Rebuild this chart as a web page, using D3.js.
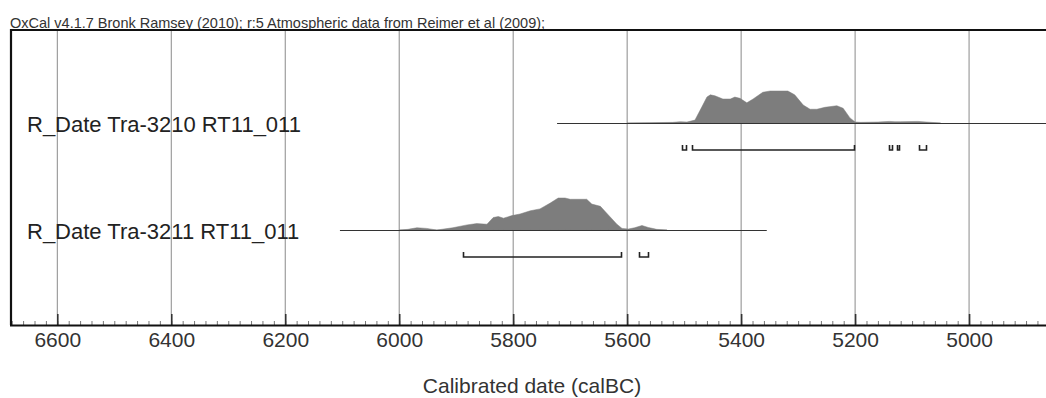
<!DOCTYPE html>
<html>
<head>
<meta charset="utf-8">
<script src="https://cdn.jsdelivr.net/npm/d3@7/dist/d3.min.js"></script>
<style>
  html, body { margin: 0; padding: 0; background: #fff; }
  svg { display: block; font-family: "Liberation Sans", Arial, sans-serif; }
</style>
</head>
<body>
<svg id="chart" width="1046" height="398"></svg>
<script>
// Calibrated radiocarbon dates (calBC), OxCal-style multiplot
const headerText = "OxCal v4.1.7 Bronk Ramsey (2010); r:5 Atmospheric data from Reimer et al (2009);";
const sampleNames = ["R_Date Tra-3210 RT11_011", "R_Date Tra-3211 RT11_011"];
const axisTitle = "Calibrated date (calBC)";
const majorTicks = [6600, 6400, 6200, 6000, 5800, 5600, 5400, 5200, 5000];

// Calibrated probability (relative, peak = 1) against calendar year BC
const tra3210Years = [5600, 5560, 5520, 5507, 5495, 5481, 5469, 5460, 5454, 5446, 5432, 5419, 5411, 5402, 5390, 5379, 5362, 5349, 5318, 5306, 5291, 5279, 5267, 5253, 5232, 5221, 5209, 5200, 5190, 5160, 5140, 5130, 5120, 5090, 5075, 5050];
const tra3210Prob  = [0, 0.01, 0.02, 0.04, 0.03, 0.09, 0.5, 0.81, 0.88, 0.85, 0.75, 0.75, 0.81, 0.77, 0.63, 0.75, 0.96, 1.0, 1.0, 0.88, 0.56, 0.43, 0.43, 0.49, 0.54, 0.46, 0.16, 0.03, 0.02, 0.03, 0.05, 0.04, 0.04, 0.05, 0.03, 0];
const tra3211Years = [6000, 5985, 5969, 5952, 5934, 5906, 5881, 5864, 5846, 5835, 5826, 5817, 5802, 5788, 5770, 5753, 5735, 5721, 5709, 5700, 5671, 5662, 5647, 5633, 5618, 5609, 5598, 5587, 5574, 5563, 5548, 5530];
const tra3211Prob  = [0, 0.02, 0.07, 0.05, 0, 0.07, 0.16, 0.2, 0.18, 0.39, 0.42, 0.37, 0.45, 0.5, 0.6, 0.66, 0.84, 1.0, 1.0, 0.96, 0.96, 0.81, 0.74, 0.47, 0.18, 0.05, 0.03, 0.07, 0.14, 0.08, 0.02, 0];

// Extent of each sample's baseline
const tra3210Span = [5723, 4700];
const tra3211Span = [6104, 5355];

// 95.4% highest posterior density ranges
const tra3210Ranges = [[5504, 5495], [5487, 5200], [5140, 5133], [5126, 5121], [5087, 5074]];
const tra3211Ranges = [[5888, 5609], [5580, 5562]];

const samples = [
  { name: sampleNames[0], years: tra3210Years, prob: tra3210Prob, span: tra3210Span, ranges: tra3210Ranges },
  { name: sampleNames[1], years: tra3211Years, prob: tra3211Prob, span: tra3211Span, ranges: tra3211Ranges }
];

const frame = { left: 10, top: 30, right: 1046, bottom: 325 };
const rowBase = [123, 230];
const peakHeight = 32;

const svg = d3.select("#chart");

const x = d3.scaleLinear().domain([6683, 4865]).range([frame.left, frame.right]);
const y = d3.scaleLinear().domain([0, 1]).range([0, peakHeight]);

svg.append("defs").append("clipPath").attr("id", "plotClip")
  .append("rect")
  .attr("x", frame.left).attr("y", frame.top)
  .attr("width", frame.right - frame.left).attr("height", frame.bottom - frame.top);

// Header
svg.append("text")
  .attr("x", frame.left)
  .attr("y", 28)
  .attr("font-size", 14.5)
  .attr("fill", "#333")
  .text(headerText);

// Vertical grid lines
svg.append("g").selectAll("line")
  .data(majorTicks)
  .join("line")
  .attr("x1", d => x(d)).attr("x2", d => x(d))
  .attr("y1", frame.top).attr("y2", frame.bottom)
  .attr("stroke", "#8a8a8a")
  .attr("stroke-width", 1);

const plot = svg.append("g").attr("clip-path", "url(#plotClip)");

samples.forEach((s, i) => {
  const base = rowBase[i];
  const pts = s.years.map((yr, j) => [yr, s.prob[j]]);

  // Probability distribution
  const area = d3.area()
    .x(d => x(d[0]))
    .y0(base)
    .y1(d => base - y(d[1]))
    .curve(d3.curveLinear);
  plot.append("path")
    .datum(pts)
    .attr("d", area)
    .attr("fill", "#7d7d7d")
    .attr("stroke", "#7d7d7d")
    .attr("stroke-width", 0.5);

  // Baseline
  plot.append("line")
    .attr("x1", x(s.span[0])).attr("x2", x(s.span[1]))
    .attr("y1", base + 0.5).attr("y2", base + 0.5)
    .attr("stroke", "#333")
    .attr("stroke-width", 1);

  // Range brackets
  const by = base + 27;
  plot.append("g").selectAll("path")
    .data(s.ranges)
    .join("path")
    .attr("d", r => {
      const a = Math.round(x(r[0])) + 0.5, b = Math.round(x(r[1])) - 0.5;
      return `M${a},${by - 5}V${by}H${b}V${by - 5}`;
    })
    .attr("fill", "none")
    .attr("stroke", "#222")
    .attr("stroke-width", 1.6);

  // Sample label
  svg.append("text")
    .attr("x", 27)
    .attr("y", base + 9)
    .attr("font-size", 22)
    .attr("fill", "#222")
    .text(s.name);
});

// Minor ticks every 20 years
const minorAxis = d3.axisBottom(x)
  .tickValues(d3.range(6680, 4860, -20))
  .tickSize(-4)
  .tickFormat("");
svg.append("g")
  .attr("transform", `translate(0,${frame.bottom})`)
  .call(minorAxis)
  .call(g => g.select(".domain").remove())
  .call(g => g.selectAll(".tick line").attr("stroke", "#777"));

// Major ticks and labels
const majorAxis = d3.axisBottom(x)
  .tickValues(majorTicks)
  .tickSize(-11)
  .tickPadding(7)
  .tickFormat(d3.format("d"));
svg.append("g")
  .attr("transform", `translate(0,${frame.bottom})`)
  .call(majorAxis)
  .call(g => g.select(".domain").remove())
  .call(g => g.selectAll(".tick line").attr("stroke", "#333").attr("stroke-width", 1.6))
  .call(g => g.selectAll(".tick text")
    .attr("font-size", 21)
    .attr("font-family", "Liberation Sans, Arial, sans-serif")
    .attr("fill", "#333"));

// Frame: left, top and bottom borders
svg.append("path")
  .attr("d", `M${frame.left + 1},${frame.bottom}V${frame.top}H${frame.right}`)
  .attr("fill", "none")
  .attr("stroke", "#111")
  .attr("stroke-width", 2.2);
svg.append("line")
  .attr("x1", frame.left).attr("x2", frame.right)
  .attr("y1", frame.bottom + 0.5).attr("y2", frame.bottom + 0.5)
  .attr("stroke", "#111")
  .attr("stroke-width", 2.2);

// Axis title
svg.append("text")
  .attr("x", 532)
  .attr("y", 393)
  .attr("text-anchor", "middle")
  .attr("font-size", 21)
  .attr("fill", "#333")
  .text(axisTitle);
</script>
</body>
</html>
